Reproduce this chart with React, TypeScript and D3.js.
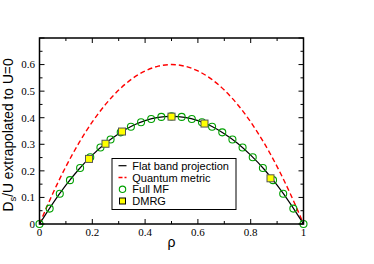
import React from "react";
import * as d3 from "d3";

const flatRho = [0, 0.05, 0.1, 0.15, 0.2, 0.25, 0.3, 0.35, 0.4, 0.45, 0.5, 0.55, 0.6, 0.65, 0.7, 0.75, 0.8, 0.85, 0.9, 0.95, 1];
const flatVal = [0, 0.077, 0.146, 0.207, 0.259, 0.304, 0.34, 0.369, 0.389, 0.401, 0.405, 0.401, 0.389, 0.369, 0.34, 0.304, 0.259, 0.207, 0.146, 0.077, 0];
const qmVal = [0, 0.114, 0.216, 0.306, 0.384, 0.45, 0.504, 0.546, 0.576, 0.594, 0.6, 0.594, 0.576, 0.546, 0.504, 0.45, 0.384, 0.306, 0.216, 0.114, 0];
const mfRho = [0, 0.0385, 0.0769, 0.1154, 0.1538, 0.1923, 0.2308, 0.2692, 0.3077, 0.3462, 0.3846, 0.4231, 0.4615, 0.5, 0.5385, 0.5769, 0.6154, 0.6538, 0.6923, 0.7308, 0.7692, 0.8077, 0.8462, 0.8846, 0.9231, 0.9615, 1];
const mfVal = [0, 0.058, 0.114, 0.165, 0.211, 0.251, 0.288, 0.318, 0.345, 0.366, 0.383, 0.395, 0.403, 0.405, 0.403, 0.395, 0.383, 0.366, 0.345, 0.318, 0.288, 0.251, 0.211, 0.165, 0.114, 0.058, 0];
const dmrgRho = [0.1875, 0.25, 0.3125, 0.5, 0.625, 0.875];
const dmrgVal = [0.245, 0.302, 0.348, 0.404, 0.378, 0.172];
const xTicks = [0, 0.2, 0.4, 0.6, 0.8, 1];
const yTicks = [0, 0.1, 0.2, 0.3, 0.4, 0.5, 0.6];
const legendLabels = ["Flat band projection", "Quantum metric", "Full MF", "DMRG"];

export default function App() {
  const W = 374, H = 264;
  const L = 39.5, R = 303.5, T = 38, B = 224;
  const x = d3.scaleLinear().domain([0, 1]).range([L, R]);
  const y = d3.scaleLinear().domain([0, 0.7]).range([B, T]);
  const line = d3.line<number>().x((_, i) => x(flatRho[i])).y((d) => y(d)).curve(d3.curveMonotoneX);
  const xMinor = d3.range(0, 1.0001, 0.1);
  const yMinor = d3.range(0, 0.7001, 0.05);
  const isMajorX = (v: number) => Math.abs(v * 5 - Math.round(v * 5)) < 1e-6;
  const isMajorY = (v: number) => Math.abs(v * 10 - Math.round(v * 10)) < 1e-6;
  const green = "#00a000";
  const lx = 112, ly = 158.5, lw = 124, lh = 51;
  const rows = [165.7, 177.5, 189.3, 201];
  return (
    <svg width={W} height={H} style={{ position: "absolute", left: 0, top: 0 }}>
      <rect width={W} height={H} fill="#fff" />
      <path d={line(qmVal) || ""} fill="none" stroke="#ff0000" strokeWidth={1.4} strokeDasharray="5,3" />
      <path d={line(flatVal) || ""} fill="none" stroke="#000" strokeWidth={1.2} />
      {mfRho.map((r, i) => (
        <circle key={i} cx={x(r)} cy={y(mfVal[i])} r={3.5} fill="none" stroke={green} strokeWidth={1.1} />
      ))}
      {dmrgRho.map((r, i) => (
        <rect key={i} x={x(r) - 3.5} y={y(dmrgVal[i]) - 3.5} width={7} height={7} fill="#ffff00" stroke="#555" strokeWidth={1} />
      ))}
      {xMinor.map((v, i) => {
        const len = isMajorX(v) ? 5 : 3;
        return (
          <g key={i}>
            <line x1={x(v)} x2={x(v)} y1={B} y2={B - len} stroke="#000" strokeWidth={1} />
            <line x1={x(v)} x2={x(v)} y1={T} y2={T + len} stroke="#000" strokeWidth={1} />
          </g>
        );
      })}
      {yMinor.map((v, i) => {
        const len = isMajorY(v) ? 5 : 3;
        return (
          <g key={i}>
            <line x1={L} x2={L + len} y1={y(v)} y2={y(v)} stroke="#000" strokeWidth={1} />
            <line x1={R} x2={R - len} y1={y(v)} y2={y(v)} stroke="#000" strokeWidth={1} />
          </g>
        );
      })}
      <rect x={L} y={T} width={R - L} height={B - T} fill="none" stroke="#000" strokeWidth={1.5} />
      {xTicks.map((v, i) => (
        <text key={i} x={x(v)} y={235.5} textAnchor="middle" fontFamily="Liberation Serif" fontSize={11}>
          {String(v)}
        </text>
      ))}
      {yTicks.map((v, i) => (
        <text key={i} x={L - 4.5} y={y(v) + 3.8} textAnchor="end" fontFamily="Liberation Serif" fontSize={11}>
          {String(v)}
        </text>
      ))}
      <text x={171.5} y={247} textAnchor="middle" fontFamily="Liberation Sans" fontSize={14}>ρ</text>
      <text transform={`translate(12.5,135) rotate(-90)`} textAnchor="middle" fontFamily="Liberation Sans" fontSize={13.8}>
        D<tspan fontSize={9.5} dy={3}>s</tspan><tspan dy={-3}>/U extrapolated to U=0</tspan>
      </text>
      <rect x={lx} y={ly} width={lw} height={lh} fill="#fff" stroke="#000" strokeWidth={1} />
      <line x1={118.5} x2={126.5} y1={rows[0]} y2={rows[0]} stroke="#000" strokeWidth={1.2} />
      <line x1={118.5} x2={126.5} y1={rows[1]} y2={rows[1]} stroke="#ff0000" strokeWidth={1.4} strokeDasharray="4,2" />
      <circle cx={122.5} cy={rows[2]} r={3.2} fill="none" stroke={green} strokeWidth={1.1} />
      <rect x={119.5} y={rows[3] - 3} width={6} height={6} fill="#ffff00" stroke="#000" strokeWidth={1} />
      {legendLabels.map((t, i) => (
        <text key={i} x={132.3} y={rows[i] + 4} fontFamily="Liberation Sans" fontSize={11}>{t}</text>
      ))}
    </svg>
  );
}
